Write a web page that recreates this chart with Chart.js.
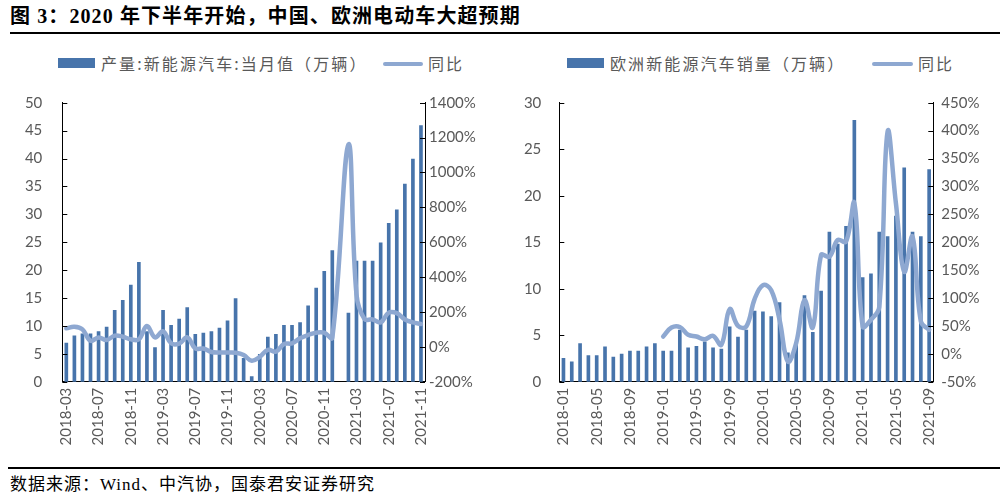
<!DOCTYPE html>
<html>
<head>
<meta charset="utf-8">
<script src="https://cdn.jsdelivr.net/npm/chart.js@4.4.1/dist/chart.umd.min.js"></script>
<style>
  html, body { margin: 0; padding: 0; background: #fff; }
  body { width: 1008px; height: 498px; position: relative; overflow: hidden; }
  .abs { position: absolute; white-space: nowrap; }
  #title { left: 10px; top: 3px; font: bold 20px "Liberation Serif", "Noto Sans CJK SC", serif; color: #000; line-height: 26px; letter-spacing: 1.1px; }
  #rule1 { left: 10px; top: 32px; width: 990px; height: 2px; background: #000; }
  #rule2 { left: 8px; top: 467px; width: 992px; height: 2px; background: #000; }
  #foot { left: 10px; top: 474px; font: 17px "Liberation Serif", "Noto Sans CJK SC", serif; color: #000; line-height: 22px; letter-spacing: 1px; }
  .leg { font: 16px "Noto Sans CJK SC", sans-serif; color: #595959; line-height: 20px; top: 53px; letter-spacing: 2.1px; }
  .sw { height: 10px; top: 58px; }
  .ln { height: 4px; top: 62px; border-radius: 2px; }
  .box { position: absolute; top: 40px; width: 504px; height: 425px; }
</style>
</head>
<body>
<div id="title" class="abs">图 3：2020 年下半年开始，中国、欧洲电动车大超预期</div>
<div id="rule1" class="abs"></div>

<div id="sw1" class="abs sw" style="left:58px;width:37px;"></div>
<div class="abs leg" style="left:101px;">产量:新能源汽车:当月值（万辆）</div>
<div id="ln1" class="abs ln" style="left:383px;width:40px;"></div>
<div class="abs leg" style="left:428px;">同比</div>

<div id="sw2" class="abs sw" style="left:567px;width:37px;"></div>
<div class="abs leg" style="left:610px;">欧洲新能源汽车销量（万辆）</div>
<div id="ln2" class="abs ln" style="left:872px;width:41px;"></div>
<div class="abs leg" style="left:918px;">同比</div>

<div class="box" style="left:0px;"><canvas id="c1" width="504" height="425"></canvas></div>
<div class="box" style="left:504px;"><canvas id="c2" width="504" height="425"></canvas></div>

<div id="rule2" class="abs"></div>
<div id="foot" class="abs">数据来源：Wind、中汽协，国泰君安证券研究</div>

<script>
// ---------- Data ----------
const cnMonths = [
  "2018-03","2018-04","2018-05","2018-06","2018-07","2018-08","2018-09","2018-10","2018-11","2018-12",
  "2019-01","2019-02","2019-03","2019-04","2019-05","2019-06","2019-07","2019-08","2019-09","2019-10","2019-11","2019-12",
  "2020-01","2020-02","2020-03","2020-04","2020-05","2020-06","2020-07","2020-08","2020-09","2020-10","2020-11","2020-12",
  "2021-01","2021-02","2021-03","2021-04","2021-05","2021-06","2021-07","2021-08","2021-09","2021-10","2021-11"
];
const cnProduction = [
  6.9, 8.2, 8.6, 8.6, 9.0, 9.8, 12.8, 14.6, 17.3, 21.4,
  9.0, 6.1, 12.8, 10.1, 11.2, 13.3, 8.5, 8.7, 9.0, 9.6, 10.9, 14.9,
  4.2, 0.9, 4.9, 8.0, 8.5, 10.1, 10.1, 10.6, 13.6, 16.8, 19.8, 23.5,
  null, 12.3, 21.6, 21.6, 21.6, 24.9, 28.4, 30.8, 35.4, 39.9, 45.9
];
const cnYoY = [
  106, 115, 100, 35, 54, 39, 64, 58, 43, 43,
  119, 54, 89, 20, 18, 54, -9, -10, -30, -33, -33, -34,
  -47, -80, -57, -18, -28, 16, 20, 49, 68, 81, 81, 52,
  null, 1160, 300, 159, 157, 140, 196, 193, 157, 140, 131
];
const cnLeftTicks = { min: 0, max: 50, step: 5 };
const cnRightTicks = { min: -200, max: 1400, step: 200 };

const euMonths = [
  "2018-01","2018-02","2018-03","2018-04","2018-05","2018-06","2018-07","2018-08","2018-09","2018-10","2018-11","2018-12",
  "2019-01","2019-02","2019-03","2019-04","2019-05","2019-06","2019-07","2019-08","2019-09","2019-10","2019-11","2019-12",
  "2020-01","2020-02","2020-03","2020-04","2020-05","2020-06","2020-07","2020-08","2020-09","2020-10","2020-11","2020-12",
  "2021-01","2021-02","2021-03","2021-04","2021-05","2021-06","2021-07","2021-08","2021-09"
];
const euSales = [
  2.5, 2.15, 4.1, 2.8, 2.8, 3.76, 2.65, 2.98, 3.3, 3.3, 3.76, 4.1,
  3.3, 3.3, 5.56, 3.65, 3.8, 4.3, 3.65, 3.5, 5.9, 4.8, 5.56, 7.6,
  7.5, 7.0, 8.5, 3.1, 4.0, 9.25, 5.3, 9.75, 16.1, 14.8, 16.7, 28.1,
  11.2, 11.6, 16.1, 15.6, 17.8, 23.0, 16.1, 15.6, 22.8
];
const euYoY = [
  null, null, null, null, null, null, null, null, null, null, null, null,
  31, 47, 48, 34, 31, 26, 32, 16, 80, 50, 49, 98,
  123, 114, 61, -14, 19, 96, 47, 177, 174, 204, 201, 270,
  49, 61, 84, 398, 270, 147, 210, 58, 43
];
const euLeftTicks = { min: 0, max: 30, step: 5 };
const euRightTicks = { min: -50, max: 450, step: 50 };

// ---------- Styles ----------
const BAR = '#4774AB';
const LINE = '#8EA8D1';
const TXT = '#595959';
const FONT = { family: 'Lato, "Open Sans", sans-serif', size: 15 };

document.getElementById('sw1').style.background = BAR;
document.getElementById('sw2').style.background = BAR;
document.getElementById('ln1').style.background = LINE;
document.getElementById('ln2').style.background = LINE;

// inward tick marks on y axes
const innerTicks = {
  id: 'innerTicks',
  afterDraw(chart) {
    const ctx = chart.ctx;
    ctx.save();
    ctx.strokeStyle = '#000';
    ctx.lineWidth = 1;
    ['y', 'y1'].forEach(id => {
      const s = chart.scales[id];
      if (!s) return;
      const left = s.position === 'left';
      const x0 = left ? s.right : s.left;
      const x1 = left ? x0 + 5 : x0 - 5;
      s.ticks.forEach((t, i) => {
        const y = Math.round(s.getPixelForTick(i)) + 0.5;
        ctx.beginPath();
        ctx.moveTo(x0, y);
        ctx.lineTo(x1, y);
        ctx.stroke();
      });
    });
    ctx.restore();
  }
};

function makeChart(canvasId, labels, bars, yoy, lt, rt, geom) {
  return new Chart(document.getElementById(canvasId), {
    type: 'bar',
    data: {
      labels: labels,
      datasets: [
        {
          type: 'line',
          data: yoy,
          yAxisID: 'y1',
          borderColor: LINE,
          borderWidth: 4.5,
          pointRadius: 0,
          tension: 0.4,
          spanGaps: true,
          order: 0,
          borderCapStyle: 'round',
          borderJoinStyle: 'round'
        },
        {
          type: 'bar',
          data: bars,
          yAxisID: 'y',
          backgroundColor: BAR,
          barThickness: 3,
          order: 1
        }
      ]
    },
    options: {
      responsive: false,
      animation: false,
      devicePixelRatio: 1,
      layout: { padding: { top: geom.top, left: 0, right: 0, bottom: 0 } },
      plugins: { legend: { display: false }, tooltip: { enabled: false } },
      scales: {
        x: {
          grid: { display: false, drawTicks: false },
          border: { display: true, color: '#000', width: 1 },
          ticks: {
            autoSkip: false,
            minRotation: 90,
            maxRotation: 90,
            padding: 6,
            color: TXT,
            font: FONT,
            callback: function (v, i) { return i % 4 === 0 ? this.getLabelForValue(v) : ''; }
          },
          afterFit: s => { s.height = geom.xh; }
        },
        y: {
          position: 'left',
          min: lt.min, max: lt.max,
          grid: { display: false, drawTicks: false },
          border: { display: true, color: '#000', width: 1 },
          ticks: { stepSize: lt.step, padding: geom.lpad, color: TXT, font: FONT },
          afterFit: s => { s.width = geom.lw; }
        },
        y1: {
          position: 'right',
          min: rt.min, max: rt.max,
          grid: { display: false, drawTicks: false },
          border: { display: true, color: '#000', width: 1 },
          ticks: { stepSize: rt.step, padding: geom.rpad, color: TXT, font: FONT,
                   callback: v => v + '%' },
          afterFit: s => { s.width = geom.rw; }
        }
      }
    },
    plugins: [innerTicks]
  });
}

makeChart('c1', cnMonths, cnProduction, cnYoY, cnLeftTicks, cnRightTicks,
  { top: 62.7, xh: 83.3, lw: 62.3, rw: 79, lpad: 20, rpad: 4 });
makeChart('c2', euMonths, euSales, euYoY, euLeftTicks, euRightTicks,
  { top: 62.7, xh: 83.3, lw: 55.3, rw: 74.7, lpad: 18, rpad: 8 });
</script>
</body>
</html>
